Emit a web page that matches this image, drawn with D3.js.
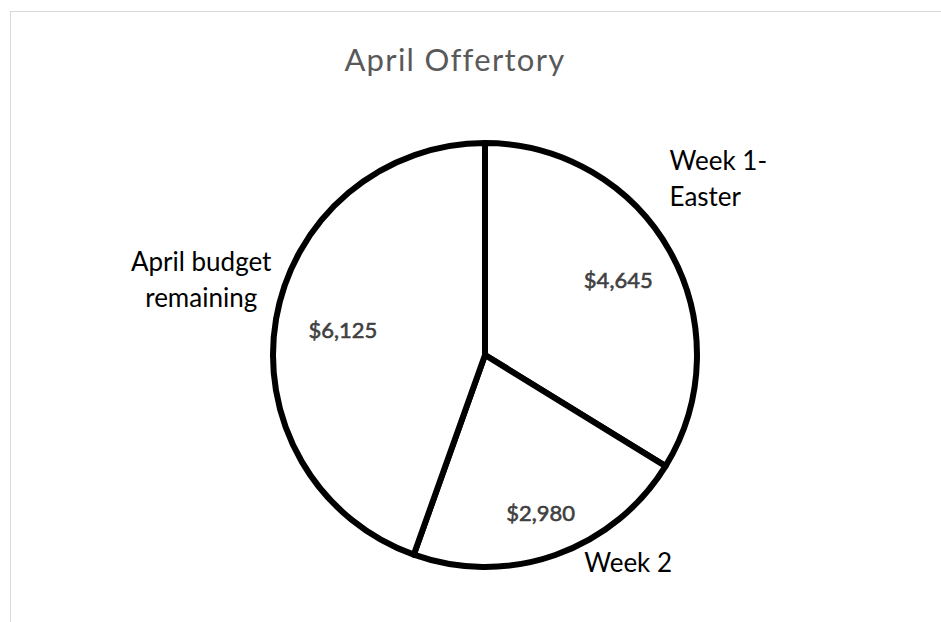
<!DOCTYPE html>
<html>
<head>
<meta charset="utf-8">
<script src="https://cdn.jsdelivr.net/npm/d3@7"></script>
<style>
  body { margin: 0; background: #fff; }
  svg { display: block; }
</style>
</head>
<body>
<div id="chart"></div>
<script>
// April offertory pie chart

const categories = ["Week 1-\nEaster", "Week 2", "April budget\nremaining"];
const values = [4645, 2980, 6125];
const valueLabels = ["$4,645", "$2,980", "$6,125"];

const width = 941, height = 622;
const cx = 485, cy = 355, radius = 212;
const font = "Lato, 'Open Sans', sans-serif";

// value label distance from centre, as a share of the radius (per slice)
const valueDist = [0.72, 0.79, 0.68];

// category labels: first baseline point (angle from top in degrees, distance) and anchor
const catPlacement = [
    { angle: 45, dist: 261, anchor: 'start' },
    { angle: 146.6, dist: 260, anchor: 'middle' },
    { angle: 286.5, dist: 296, anchor: 'middle' }
];

let svg = d3.select('#chart')
    .append('svg')
    .attr('width', width)
    .attr('height', height);

// light frame round the chart area
svg.append('rect')
    .attr('x', 10.5)
    .attr('y', 11.5)
    .attr('width', width + 20)
    .attr('height', height + 20)
    .attr('fill', 'none')
    .attr('stroke', '#d9d9d9')
    .attr('stroke-width', 1);

svg.append('text')
    .attr('x', 455)
    .attr('y', 71)
    .attr('text-anchor', 'middle')
    .attr('font-family', font)
    .attr('font-size', '31px')
    .attr('letter-spacing', '1.3px')
    .attr('fill', '#595959')
    .text('April Offertory');

let data = categories.map((c, i) => ({ cat: c, value: values[i], label: valueLabels[i] }));

let pie = d3.pie()
    .value(d => d.value)
    .sort(null);

let arcs = pie(data);

let arc = d3.arc()
    .innerRadius(0)
    .outerRadius(radius);

let g = svg.append('g')
    .attr('transform', `translate(${cx},${cy})`);

g.selectAll('path')
    .data(arcs)
    .join('path')
    .attr('d', arc)
    .attr('fill', '#fff')
    .attr('stroke', '#000')
    .attr('stroke-width', 6)
    .attr('stroke-linejoin', 'round');

// value labels inside the slices
g.selectAll('text.value')
    .data(arcs)
    .join('text')
    .attr('class', 'value')
    .attr('transform', (d, i) => {
        let r = radius * valueDist[i];
        let c = d3.arc().innerRadius(r).outerRadius(r).centroid(d);
        return `translate(${c})`;
    })
    .attr('text-anchor', 'middle')
    .attr('dy', '0.36em')
    .attr('font-family', font)
    .attr('font-size', '22px')
    .attr('fill', '#404040')
    .attr('stroke', '#404040')
    .attr('stroke-width', 0.6)
    .text(d => d.data.label);

// category labels outside the pie
g.selectAll('text.cat')
    .data(arcs)
    .join('text')
    .attr('class', 'cat')
    .attr('transform', (d, i) => {
        let a = catPlacement[i].angle * Math.PI / 180;
        let r = catPlacement[i].dist;
        return `translate(${Math.sin(a) * r},${-Math.cos(a) * r})`;
    })
    .attr('text-anchor', (d, i) => catPlacement[i].anchor)
    .attr('font-family', font)
    .attr('font-size', '26px')
    .attr('fill', '#000')
    .each(function (d) {
        let t = d3.select(this);
        d.data.cat.split('\n').forEach((l, k) => {
            t.append('tspan')
                .attr('x', 0)
                .attr('dy', k === 0 ? 0 : 36)
                .text(l);
        });
    });
</script>
</body>
</html>
